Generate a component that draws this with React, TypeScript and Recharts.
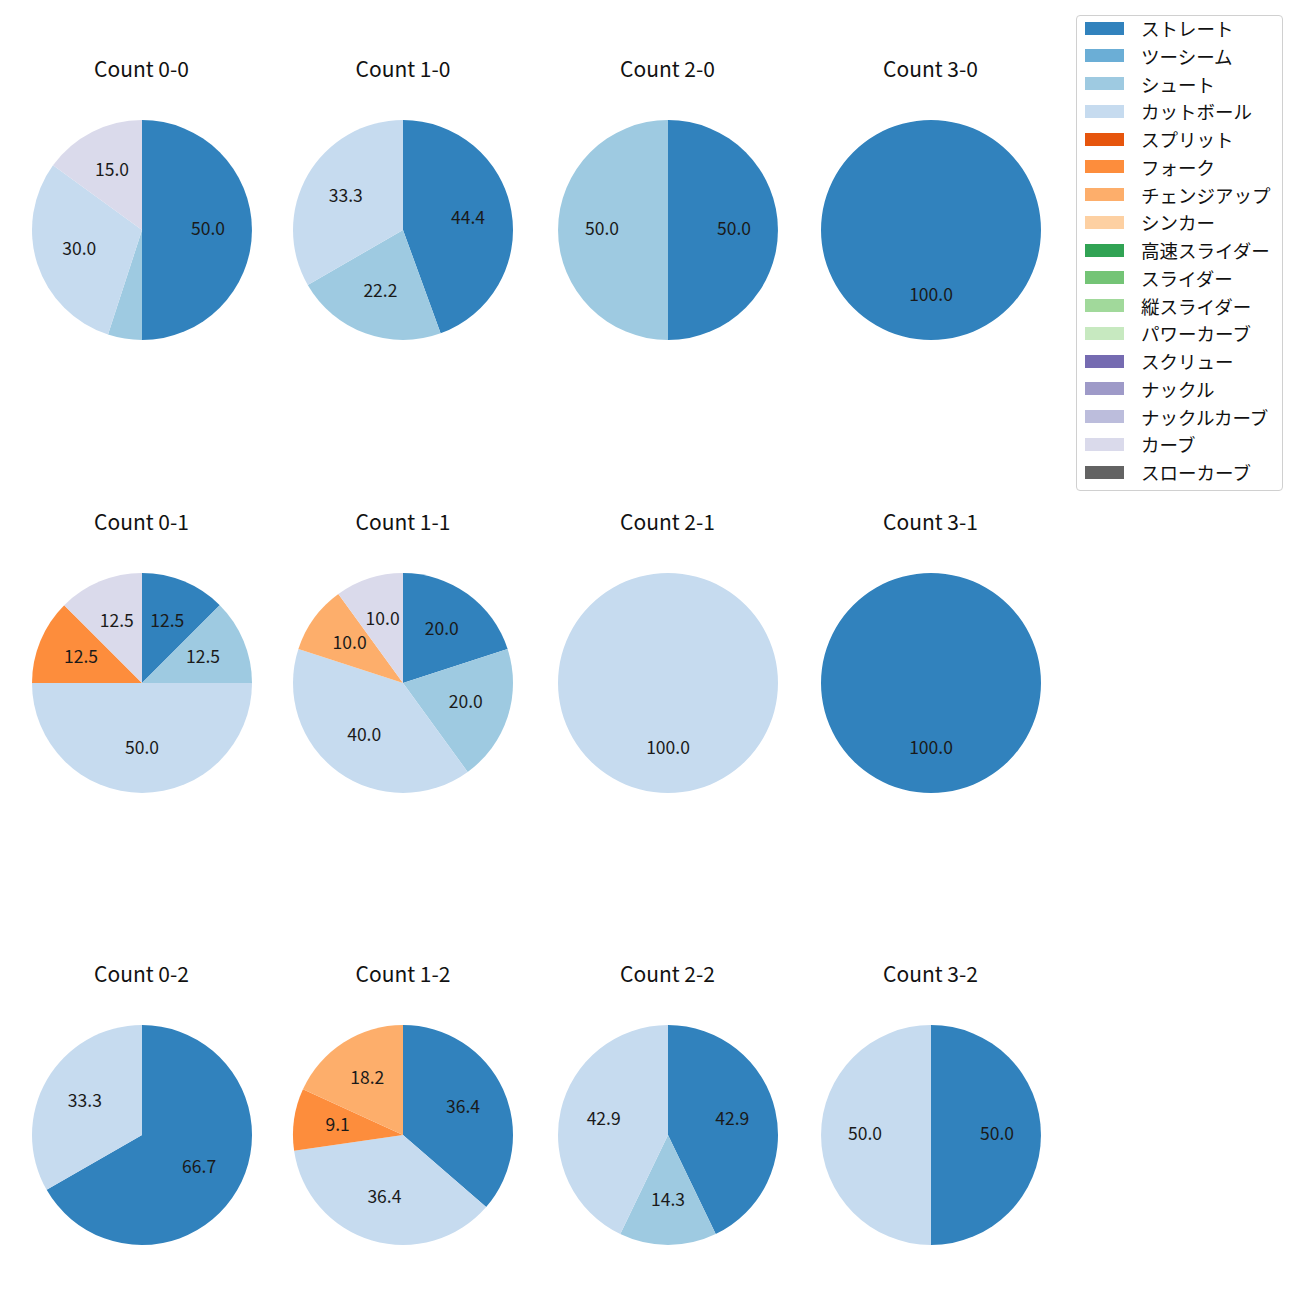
import { Pie, PieChart, Cell } from "recharts";

const pitchTypes = [
  "ストレート", "ツーシーム", "シュート", "カットボール", "スプリット", "フォーク",
  "チェンジアップ", "シンカー", "高速スライダー", "スライダー", "縦スライダー",
  "パワーカーブ", "スクリュー", "ナックル", "ナックルカーブ", "カーブ", "スローカーブ",
];
const pitchColors = [
  "#3182bd", "#6baed6", "#9ecae1", "#c6dbef", "#e6550d", "#fd8d3c",
  "#fdae6b", "#fdd0a2", "#31a354", "#74c476", "#a1d99b", "#c7e9c0",
  "#756bb1", "#9e9ac8", "#bcbddc", "#dadaeb", "#636363",
];

// share (%) of each pitch type, per ball-strike count
const count00 = [["ストレート", 50], ["シュート", 5], ["カットボール", 30], ["カーブ", 15]];
const count10 = [["ストレート", 44.4], ["シュート", 22.2], ["カットボール", 33.3]];
const count20 = [["ストレート", 50], ["シュート", 50]];
const count30 = [["ストレート", 100]];
const count01 = [["ストレート", 12.5], ["シュート", 12.5], ["カットボール", 50], ["フォーク", 12.5], ["カーブ", 12.5]];
const count11 = [["ストレート", 20], ["シュート", 20], ["カットボール", 40], ["チェンジアップ", 10], ["カーブ", 10]];
const count21 = [["カットボール", 100]];
const count31 = [["ストレート", 100]];
const count02 = [["ストレート", 66.7], ["カットボール", 33.3]];
const count12 = [["ストレート", 36.4], ["カットボール", 36.4], ["フォーク", 9.1], ["チェンジアップ", 18.2]];
const count22 = [["ストレート", 42.9], ["シュート", 14.3], ["カットボール", 42.9]];
const count32 = [["ストレート", 50], ["カットボール", 50]];

const panels = [
  { title: "Count 0-0", data: count00 },
  { title: "Count 1-0", data: count10 },
  { title: "Count 2-0", data: count20 },
  { title: "Count 3-0", data: count30 },
  { title: "Count 0-1", data: count01 },
  { title: "Count 1-1", data: count11 },
  { title: "Count 2-1", data: count21 },
  { title: "Count 3-1", data: count31 },
  { title: "Count 0-2", data: count02 },
  { title: "Count 1-2", data: count12 },
  { title: "Count 2-2", data: count22 },
  { title: "Count 3-2", data: count32 },
];

const colX = [141.5, 403, 667.5, 930.5];
const rowY = [230, 682.5, 1135];
const R = 110;
const BOX = 240;
const FONT = "'Noto Sans CJK JP', 'Noto Sans', sans-serif";
const RAD = Math.PI / 180;

const renderLabel = (p: any) => {
  const pct = p.percent * 100;
  if (pct <= 5.05) return null;
  const r = p.outerRadius * 0.6;
  const x = p.cx + r * Math.cos(-p.midAngle * RAD);
  const y = p.cy + r * Math.sin(-p.midAngle * RAD) - 2.5;
  return (
    <text x={x} y={y} textAnchor="middle" dominantBaseline="central" fontSize={17.5} fill="#1a1a1a" fontFamily={FONT}>
      {pct.toFixed(1)}
    </text>
  );
};

const App = () => {
  return (
    <div style={{ position: "relative", width: 1300, height: 1300, background: "#fff", fontFamily: FONT }}>
      <style>{`body{margin:0}`}</style>
      {panels.map((panel, i) => {
        const cx = colX[i % 4];
        const cy = rowY[Math.floor(i / 4)];
        const rows = panel.data.map(([name, value]) => ({ name, value }));
        return (
          <div key={panel.title}>
            <div
              style={{
                position: "absolute",
                left: cx - 100,
                width: 200,
                top: cy - 177,
                lineHeight: "30px",
                textAlign: "center",
                fontSize: 21,
                color: "#111",
              }}
            >
              {panel.title}
            </div>
            <div style={{ position: "absolute", left: cx - BOX / 2, top: cy - BOX / 2 }}>
              <PieChart width={BOX} height={BOX} margin={{ top: 0, right: 0, bottom: 0, left: 0 }}>
                <Pie
                  data={rows}
                  dataKey="value"
                  nameKey="name"
                  cx={BOX / 2}
                  cy={BOX / 2}
                  outerRadius={R}
                  startAngle={90}
                  endAngle={-270}
                  stroke="none"
                  labelLine={false}
                  label={renderLabel}
                  isAnimationActive={false}
                >
                  {rows.map((row) => (
                    <Cell key={row.name as string} fill={pitchColors[pitchTypes.indexOf(row.name as string)]} />
                  ))}
                </Pie>
              </PieChart>
            </div>
          </div>
        );
      })}
      <div
        style={{
          position: "absolute",
          left: 1076,
          top: 15,
          width: 205,
          height: 474,
          border: "1px solid #d0d0d0",
          borderRadius: 4,
          background: "#fff",
        }}
      >
        {pitchTypes.map((name, i) => (
          <div key={name} style={{ position: "absolute", left: 8, top: 5 + i * 27.75, height: 14, display: "flex", alignItems: "center" }}>
            <div style={{ width: 39, height: 13, background: pitchColors[i] }} />
            <span style={{ marginLeft: 17, fontSize: 18.5, color: "#111", whiteSpace: "nowrap" }}>{name}</span>
          </div>
        ))}
      </div>
    </div>
  );
};

export default App;
